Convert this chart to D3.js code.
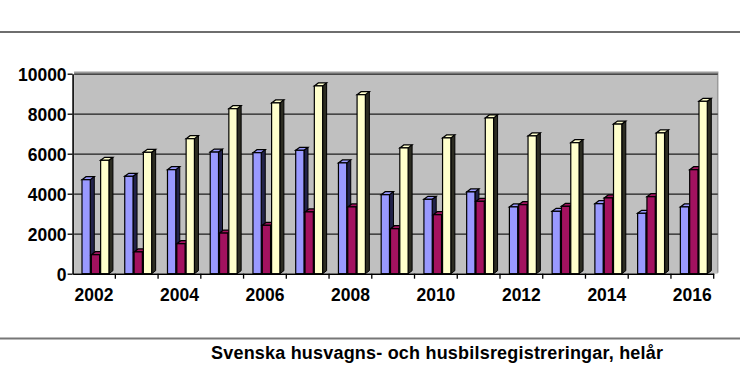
<!DOCTYPE html>
<html>
<head>
<meta charset="utf-8">
<script src="https://cdn.jsdelivr.net/npm/d3@7"></script>
<style>
    body { margin: 0; background: #fff; }
    figure { margin: 0; }
    text { font-family: "Liberation Sans", Arial, sans-serif; font-weight: bold; fill: #000; }
</style>
</head>
<body>
<figure id="chart"></figure>
<script>
// the data
const years = ["2002", "2003", "2004", "2005", "2006", "2007", "2008", "2009", "2010", "2011", "2012", "2013", "2014", "2015", "2016"];
const husvagnar = [4700, 4870, 5200, 6080, 6050, 6170, 5540, 3950, 3720, 4090, 3340, 3120, 3500, 3020, 3340];
const husbilar = [950, 1090, 1500, 2030, 2420, 3090, 3340, 2250, 2950, 3620, 3450, 3370, 3790, 3850, 5200];
const totalt = [5670, 6070, 6750, 8250, 8540, 9390, 8950, 6290, 6790, 7790, 6890, 6550, 7480, 7040, 8620];
const yTicks = [0, 2000, 4000, 6000, 8000, 10000];
const xLabels = ["2002", "2004", "2006", "2008", "2010", "2012", "2014", "2016"];
const title = "Svenska husvagns- och husbilsregistreringar, helår";

// front colour and the darker side colour per series
const series = [
    { values: husvagnar, front: "#9999ff", side: "#22224a" },
    { values: husbilar, front: "#a3125f", side: "#33051c" },
    { values: totalt, front: "#ffffcc", side: "#2c2c22" }
];

let dimensions = {
    width: 740,
    height: 383,
    margin: {
        top: 73.7,
        right: 26.3,
        bottom: 109.3,
        left: 72.6,
    }
};

dimensions.boundedWidth = dimensions.width - dimensions.margin.left - dimensions.margin.right
dimensions.boundedHeight = dimensions.height - dimensions.margin.top - dimensions.margin.bottom

// 3d look: how far the side and top faces go right and up
const depth = { dx: 4, dy: 3 };

var root = d3.select("figure#chart")
    .append("svg")
    .attr("width", dimensions.width)
    .attr("height", dimensions.height);

// the two grey rules above and below the chart
root.append("line")
    .attr("x1", 0).attr("x2", dimensions.width)
    .attr("y1", 32).attr("y2", 32)
    .attr("stroke", "#6e6e6e")
    .attr("stroke-width", 2);

root.append("line")
    .attr("x1", 0).attr("x2", dimensions.width)
    .attr("y1", 338.5).attr("y2", 338.5)
    .attr("stroke", "#777")
    .attr("stroke-width", 2);

root.append("text")
    .attr("x", 211)
    .attr("y", 359)
    .style("font-size", "18px")
    .style("letter-spacing", "0.2px")
    .text(title);

var svg = root.append("g")
    .attr("transform", `translate(${dimensions.margin.left},${dimensions.margin.top})`);

var xScale = d3.scaleBand()
    .domain(years)
    .range([0, dimensions.boundedWidth]);

var yScale = d3.scaleLinear()
    .domain([0, 10000])
    .range([dimensions.boundedHeight, 0]);

// back wall
var wallRight = dimensions.boundedWidth + depth.dx;
svg.append("rect")
    .attr("x", 1.5)
    .attr("y", -1.5)
    .attr("width", wallRight - 1.5)
    .attr("height", dimensions.boundedHeight + 1.5)
    .attr("fill", "#c0c0c0");

svg.append("polyline")
    .attr("points", `1.5,-1.5 ${wallRight},-1.5 ${wallRight},${dimensions.boundedHeight - 1}`)
    .attr("fill", "none")
    .attr("stroke", "#9a9a9a")
    .attr("stroke-width", 1.5);

// gridlines
var grid = svg.append("g")
    .attr("class", "grid")
    .call(d3.axisLeft(yScale).tickValues(yTicks.slice(1)).tickSize(-(wallRight - 1.5)).tickFormat(""))
    .attr("transform", "translate(1.5,0)");
grid.select(".domain").remove();
grid.selectAll("line")
    .attr("stroke", "#1e1e1e")
    .attr("stroke-width", 1.3);

// bars, one group per series, left to right so the next bar hides the side of the one before
var bandW = xScale.bandwidth();
var barW = bandW * 0.194;
var barStep = bandW * 0.218;
var barOff = bandW * 0.22;

series.forEach((s, i) => {
    var g = svg.append("g").attr("class", "series-" + i);
    var bars = g.selectAll("g")
        .data(years.map((yr, j) => ({ year: yr, value: s.values[j] })))
        .enter()
        .append("g");

    var x0 = d => xScale(d.year) + barOff + i * barStep;
    var h = dimensions.boundedHeight;

    bars.append("polygon")
        .attr("points", d => {
            var x = x0(d), y = yScale(d.value);
            return [[x + barW, y], [x + barW + depth.dx, y - depth.dy], [x + barW + depth.dx, h - depth.dy], [x + barW, h]].join(" ");
        })
        .attr("fill", s.side)
        .attr("stroke", "#000")
        .attr("stroke-width", 1);

    bars.append("polygon")
        .attr("points", d => {
            var x = x0(d), y = yScale(d.value);
            return [[x, y], [x + depth.dx, y - depth.dy], [x + barW + depth.dx, y - depth.dy], [x + barW, y]].join(" ");
        })
        .attr("fill", s.front)
        .attr("stroke", "#000")
        .attr("stroke-width", 1.2);

    bars.append("rect")
        .attr("x", d => x0(d))
        .attr("y", d => yScale(d.value))
        .attr("width", barW)
        .attr("height", d => h - yScale(d.value))
        .attr("fill", s.front)
        .attr("stroke", "#000")
        .attr("stroke-width", 1.2);
});

// y axis
var yAxis = svg.append("g")
    .attr("class", "y axis")
    .call(d3.axisLeft(yScale).tickValues(yTicks).tickFormat(d3.format("d")).tickSize(5).tickPadding(1).tickSizeOuter(0));
yAxis.select(".domain")
    .attr("stroke", "#000")
    .attr("stroke-width", 1.6);
yAxis.selectAll("line")
    .attr("stroke", "#000")
    .attr("stroke-width", 1.3);
yAxis.selectAll("text")
    .style("font-size", "17.5px")
    .attr("dy", "0.36em");

// x axis: labels every other year, ticks on the band edges
var xAxis = svg.append("g")
    .attr("class", "x axis")
    .attr("transform", `translate(0, ${dimensions.boundedHeight})`)
    .call(d3.axisBottom(xScale).tickSize(0).tickPadding(15).tickFormat(d => xLabels.includes(d) ? d : ""));
xAxis.select(".domain")
    .attr("stroke", "#000")
    .attr("stroke-width", 1.6);
xAxis.selectAll("text")
    .style("font-size", "17.5px");

xAxis.selectAll("line.edge")
    .data(years.slice(1).concat(["end"]))
    .enter()
    .append("line")
    .attr("class", "edge")
    .attr("x1", d => d === "end" ? dimensions.boundedWidth : xScale(d))
    .attr("x2", d => d === "end" ? dimensions.boundedWidth : xScale(d))
    .attr("y1", 0)
    .attr("y2", 5)
    .attr("stroke", "#000")
    .attr("stroke-width", 1.3);
</script>
</body>
</html>
